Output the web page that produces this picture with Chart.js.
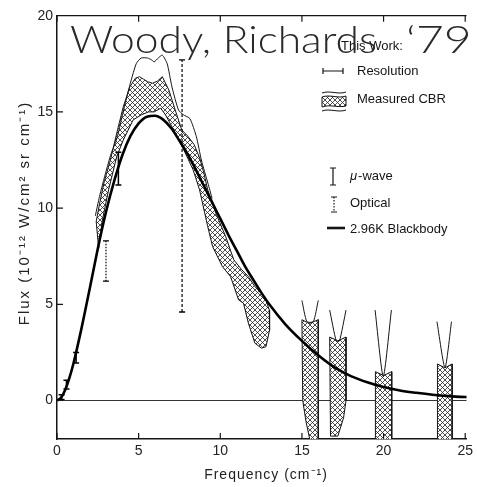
<!DOCTYPE html>
<html>
<head>
<meta charset="utf-8">
<script src="https://cdn.jsdelivr.net/npm/chart.js@4.4.0/dist/chart.umd.min.js"></script>
<style>
  html, body { margin: 0; padding: 0; background: #fff; overflow: hidden; }
  #wrap { position: relative; width: 477px; height: 487px; }
  .ttl {
    position: absolute; top: 20px;
    font: 300 37px Lato, "Open Sans", sans-serif; line-height: 1;
    color: #2a2a2a; white-space: nowrap;
    transform: scaleX(1.15); transform-origin: 0 0;
  }
  #t1 { left: 70px; }
  #t2 { left: 406px; transform: scaleX(1.3); }
</style>
</head>
<body>
<div id="wrap">
  <canvas id="c" width="477" height="487"></canvas>
  <span class="ttl" id="t1">Woody, Richards</span><span class="ttl" id="t2">‘79</span>
</div>
<script>
// 2.96 K blackbody curve (frequency in cm^-1, flux in 1e-12 W/cm2 sr cm^-1)
var bbFreq = [0, 0.25, 0.5, 0.75, 1, 1.5, 2, 2.5, 3, 3.5, 4, 4.5, 5, 5.5, 6, 6.5, 7, 7.5, 8, 8.5, 9, 9.5, 10, 10.5, 11, 11.5, 12, 12.5, 13, 14, 15, 16, 17, 18, 19, 20, 21, 22, 23, 24, 25, 25.5];
var bbFlux = [0, 0.15, 0.55, 1.15, 1.9, 3.75, 5.8, 7.9, 9.8, 11.4, 12.75, 13.75, 14.4, 14.75, 14.8, 14.6, 14.15, 13.5, 12.8, 12.0, 11.15, 10.3, 9.45, 8.6, 7.8, 7.0, 6.3, 5.62, 5.0, 3.95, 3.1, 2.35, 1.72, 1.27, 0.95, 0.7, 0.52, 0.4, 0.3, 0.23, 0.18, 0.16];

// measured CBR band, upper and lower edges
var cbrUpFreq = [2.4, 2.6, 2.87, 3.27, 3.66, 4.06, 4.46, 4.8, 5.05, 5.3, 5.55, 5.85, 6.15, 6.45, 6.85, 7.24, 7.64, 8.0, 8.4, 8.74, 9.0, 9.23, 9.73, 10.33, 10.83, 11.32, 11.72, 12.12, 12.72, 13.0, 13.02, 12.8];
var cbrUpFlux = [9.3, 10.2, 11.3, 12.5, 13.9, 15.27, 16.3, 16.75, 16.83, 16.7, 16.57, 16.49, 16.6, 16.83, 16.14, 15.1, 14.06, 13.75, 13.3, 12.6, 11.8, 10.95, 9.73, 8.52, 7.31, 6.79, 6.44, 5.92, 5.4, 4.71, 3.67, 2.8];
var cbrLoFreq = [2.55, 2.76, 3.16, 3.66, 4.06, 4.66, 5.15, 5.6, 5.95, 6.35, 6.65, 7.04, 7.5, 8.0, 8.34, 8.73, 9.23, 9.53, 10.13, 10.63, 11.12, 11.42, 11.72, 12.12, 12.52, 12.8];
var cbrLoFlux = [7.9, 9.3, 10.95, 12.68, 13.54, 14.58, 14.84, 15.0, 15.0, 15.19, 14.84, 14.23, 13.5, 12.6, 11.98, 10.95, 9.04, 8.0, 6.96, 6.44, 5.23, 5.06, 4.02, 2.98, 2.72, 2.8];

// outer envelope above the band
var envFreq = [2.35, 2.6, 3.0, 3.3, 3.66, 4.0, 4.4, 4.85, 5.15, 5.55, 5.8, 5.95, 6.2, 6.45, 6.75, 7.04, 7.44, 7.74, 8.14, 8.54, 8.84, 9.24, 9.5];
var envFlux = [9.6, 10.6, 11.9, 12.8, 13.6, 14.8, 16.2, 17.5, 17.8, 17.8, 17.7, 17.6, 17.8, 17.95, 17.5, 16.3, 15.1, 14.85, 14.65, 13.7, 12.5, 11.3, 10.5];

// high frequency windows (outline of each hatched column)
var win1Freq = [15.0, 15.45, 16.0, 16.0, 15.5, 15.25, 15.05, 15.0];
var win1Flux = [4.2, 4.0, 4.2, -2.1, -2.1, -1.1, 0.0, 4.2];
var win2Freq = [16.7, 17.2, 17.7, 17.7, 17.55, 17.2, 16.75, 16.7];
var win2Flux = [3.3, 3.1, 3.3, 0.0, -0.9, -1.85, -1.85, 3.3];
var win3Freq = [19.5, 20.0, 20.5, 20.5, 19.5, 19.5];
var win3Flux = [1.5, 1.3, 1.5, -2.1, -2.1, 1.5];
var win4Freq = [23.3, 23.75, 24.2, 24.2, 23.3, 23.3];
var win4Flux = [1.9, 1.7, 1.9, -2.1, -2.1, 1.9];

// upper limits above each window (the V lines)
var arm1Freq = [15.0, 15.3, 15.7, 16.0];
var arm1Flux = [5.2, 4.1, 4.1, 5.2];
var arm2Freq = [16.7, 17.1, 17.3, 17.7];
var arm2Flux = [4.7, 3.1, 3.1, 4.7];
var arm3Freq = [19.48, 19.98, 20.48];
var arm3Flux = [4.7, 1.25, 4.7];
var arm4Freq = [23.27, 23.76, 24.16];
var arm4Flux = [4.1, 1.7, 4.1];

// other measurements
var muFreq = [0.28, 0.58, 1.17, 3.76];
var muLow = [0.05, 0.6, 1.95, 11.2];
var muHigh = [0.3, 1.05, 2.5, 12.9];
var optFreq = [3.0, 7.66];
var optLow = [6.2, 4.6];
var optHigh = [8.3, 17.7];

var xTicks = [0, 5, 10, 15, 20, 25];
var yTicks = [0, 5, 10, 15, 20];
var xTitle = 'Frequency (cm⁻¹)';
var yTitle = 'Flux (10⁻¹² W/cm² sr cm⁻¹)';

var ink = '#151515';
var labelFont = { family: 'Liberation Sans', size: 14 };

// cross hatch fill
function makeHatch() {
  var t = document.createElement('canvas');
  t.width = 10; t.height = 10;
  var g = t.getContext('2d');
  g.fillStyle = '#fff';
  g.fillRect(0, 0, 10, 10);
  g.strokeStyle = '#222';
  g.lineWidth = 0.8;
  g.beginPath();
  for (var k = -10; k <= 20; k += 5) {
    g.moveTo(k, 0); g.lineTo(k + 10, 10);
    g.moveTo(k, 10); g.lineTo(k + 10, 0);
  }
  g.stroke();
  return g.createPattern(t, 'repeat');
}
var hatch = makeHatch();

function pts(fx, fy) {
  return fx.map(function (x, i) { return { x: x, y: fy[i] }; });
}

function shape(data) {
  return { data: data, fill: 'shape', backgroundColor: hatch, borderColor: ink, borderWidth: 1, pointRadius: 0, tension: 0, order: 5 };
}
function thin(data) {
  return { data: data, fill: false, borderColor: ink, borderWidth: 1, pointRadius: 0, tension: 0.2, order: 3 };
}

var bandPts = pts(cbrUpFreq, cbrUpFlux).concat(pts(cbrLoFreq, cbrLoFlux).reverse());
bandPts.push(bandPts[0]);

var datasets = [
  shape(bandPts),
  shape(pts(win1Freq, win1Flux)),
  shape(pts(win2Freq, win2Flux)),
  shape(pts(win3Freq, win3Flux)),
  shape(pts(win4Freq, win4Flux)),
  thin(pts(envFreq, envFlux)),
  thin(pts(arm1Freq, arm1Flux)),
  thin(pts(arm2Freq, arm2Flux)),
  thin(pts(arm3Freq, arm3Flux)),
  thin(pts(arm4Freq, arm4Flux)),
  {
    data: pts(bbFreq, bbFlux), fill: false, borderColor: '#000', borderWidth: 2.6,
    pointRadius: 0, cubicInterpolationMode: 'monotone', order: 0
  }
];

// error bars: two points joined, flat caps from the 'line' point style
muFreq.forEach(function (f, i) {
  datasets.push({
    data: [{ x: f, y: muLow[i] }, { x: f, y: muHigh[i] }],
    borderColor: '#000', borderWidth: 1.5, pointStyle: 'line', pointRadius: 3,
    pointBorderColor: '#000', pointBorderWidth: 1.5, fill: false, order: 1
  });
});
optFreq.forEach(function (f, i) {
  datasets.push({
    data: [{ x: f, y: optLow[i] }, { x: f, y: optHigh[i] }],
    borderColor: '#000', borderWidth: 1.2, borderDash: i == 0 ? [1.5, 1.5] : [3, 2],
    pointStyle: 'line', pointRadius: 3, pointBorderColor: '#000', pointBorderWidth: 1.3,
    fill: false, order: 1
  });
});

// top frame line, inward tick marks and the spaced-out axis titles
var framePlugin = {
  id: 'frame',
  afterDatasetsDraw: function (chart) {
    var a = chart.chartArea, ctx = chart.ctx;
    var sx = chart.scales.x, sy = chart.scales.y;
    ctx.save();
    ctx.strokeStyle = ink;
    ctx.lineWidth = 1.2;
    ctx.beginPath();
    ctx.moveTo(a.left, a.top); ctx.lineTo(a.right, a.top);
    xTicks.forEach(function (v) {
      var px = sx.getPixelForValue(v);
      ctx.moveTo(px, a.bottom); ctx.lineTo(px, a.bottom - 6);
      ctx.moveTo(px, a.top); ctx.lineTo(px, a.top + 6);
    });
    yTicks.forEach(function (v) {
      var py = sy.getPixelForValue(v);
      ctx.moveTo(a.left, py); ctx.lineTo(a.left + 6, py);
    });
    ctx.stroke();

    ctx.fillStyle = '#222';
    ctx.textAlign = 'center';
    ctx.textBaseline = 'middle';
    ctx.font = '14px "Liberation Sans"';
    ctx.letterSpacing = '1px';
    ctx.fillText(xTitle, 266, 475);
    ctx.font = '15px "Liberation Sans"';
    ctx.letterSpacing = '2px';
    ctx.translate(25, 213);
    ctx.rotate(-Math.PI / 2);
    ctx.fillText(yTitle, 0, 0);
    ctx.restore();
  }
};

// key in the upper right
var keyPlugin = {
  id: 'key',
  afterDraw: function (chart) {
    var ctx = chart.ctx;
    ctx.save();
    ctx.fillStyle = ink;
    ctx.strokeStyle = ink;
    ctx.font = '13px "Liberation Sans"';
    ctx.textBaseline = 'middle';
    ctx.fillText('This Work:', 341, 46);
    ctx.fillText('Resolution', 357, 71);
    ctx.fillText('Measured CBR', 357, 99);
    ctx.fillText('Optical', 350, 203);
    ctx.fillText('2.96K Blackbody', 350, 229);
    ctx.font = 'italic 13px "Liberation Sans"';
    ctx.fillText('μ', 350, 176);
    var w = ctx.measureText('μ').width;
    ctx.font = '13px "Liberation Sans"';
    ctx.fillText('-wave', 350 + w + 1, 176);

    ctx.lineWidth = 1.2;
    ctx.beginPath();
    // resolution bar
    ctx.moveTo(323, 71); ctx.lineTo(343, 71);
    ctx.moveTo(323, 68); ctx.lineTo(323, 74);
    ctx.moveTo(343, 68); ctx.lineTo(343, 74);
    // mu-wave bar
    ctx.moveTo(333, 168); ctx.lineTo(333, 185);
    ctx.moveTo(330, 168); ctx.lineTo(336, 168);
    ctx.moveTo(330, 185); ctx.lineTo(336, 185);
    ctx.moveTo(331, 197); ctx.lineTo(337, 197);
    ctx.moveTo(331, 212); ctx.lineTo(337, 212);
    ctx.stroke();
    ctx.setLineDash([1.5, 1.5]);
    ctx.beginPath();
    ctx.moveTo(334, 197); ctx.lineTo(334, 212);
    ctx.stroke();
    ctx.setLineDash([]);
    ctx.lineWidth = 2.6;
    ctx.beginPath();
    ctx.moveTo(327, 228); ctx.lineTo(345, 228);
    ctx.stroke();

    // hatched swatch with wavy edges
    ctx.lineWidth = 1;
    ctx.fillStyle = hatch;
    ctx.beginPath();
    ctx.moveTo(322, 97);
    ctx.bezierCurveTo(330, 94, 338, 99, 346, 96);
    ctx.lineTo(346, 106);
    ctx.bezierCurveTo(338, 108, 330, 104, 322, 107);
    ctx.closePath();
    ctx.fill();
    ctx.stroke();
    ctx.beginPath();
    ctx.moveTo(322, 93); ctx.bezierCurveTo(330, 90, 338, 95, 346, 92);
    ctx.moveTo(322, 111); ctx.bezierCurveTo(330, 108, 338, 113, 346, 110);
    ctx.stroke();
    ctx.restore();
  }
};

new Chart(document.getElementById('c'), {
  type: 'line',
  data: { datasets: datasets },
  options: {
    responsive: false,
    animation: false,
    layout: { autoPadding: false, padding: { left: 0, right: 0, top: 15.7, bottom: 0 } },
    plugins: { legend: { display: false }, tooltip: { enabled: false } },
    scales: {
      x: {
        type: 'linear', min: 0, max: 25.08,
        afterBuildTicks: function (s) { s.ticks = xTicks.map(function (v) { return { value: v }; }); },
        afterFit: function (s) { s.height = 48; },
        grid: { display: false, drawTicks: false },
        border: { display: true, color: ink, width: 1.5 },
        ticks: { padding: 4, font: labelFont, color: '#222', maxRotation: 0, autoSkip: false },
        title: { display: false }
      },
      y: {
        type: 'linear', min: -2, max: 20,
        afterBuildTicks: function (s) { s.ticks = yTicks.map(function (v) { return { value: v }; }); },
        afterFit: function (s) { s.width = 57; },
        grid: {
          drawTicks: false, lineWidth: 1,
          color: function (c) { return c.tick && c.tick.value === 0 ? '#333' : 'rgba(0,0,0,0)'; }
        },
        border: { display: true, color: ink, width: 1.5 },
        ticks: { padding: 4, font: labelFont, color: '#222' },
        title: { display: false }
      }
    }
  },
  plugins: [framePlugin, keyPlugin]
});
</script>
</body>
</html>
